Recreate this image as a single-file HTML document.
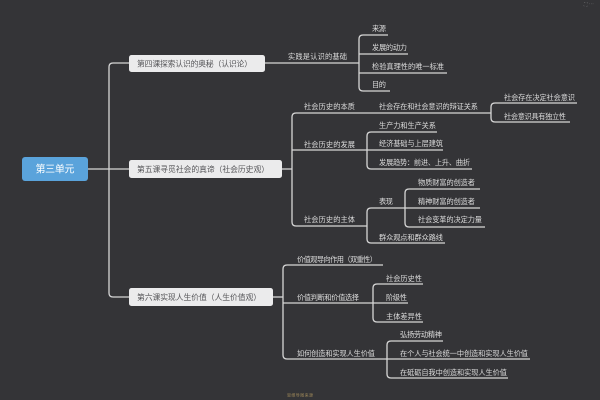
<!DOCTYPE html>
<html>
<head>
<meta charset="utf-8">
<style>
html,body{margin:0;padding:0;background:#343437;}
svg{display:block;}
text{font-family:"Liberation Sans","Noto Sans CJK SC",sans-serif;}
.t{fill:#dcdcdc;font-size:7.2px;}
.b{fill:#555558;font-size:7.8px;}
</style>
</head>
<body>
<svg width="600" height="400" viewBox="0 0 600 400" xmlns="http://www.w3.org/2000/svg">
<rect width="600" height="400" fill="#343437"/>
<g fill="none" stroke="#d6d6d6" stroke-width="1.3">
  <path d="M88,169 H129"/>
  <path d="M129,63 H113 Q109,63 109,67 V293 Q109,297 113,297 H129"/>
  <path d="M265,63 H359"/>
  <path d="M388,35 H363 Q359,35 359,39 V87 Q359,91 363,91 H390"/>
  <path d="M359,54 H408"/>
  <path d="M359,73 H447"/>
  <path d="M282,169 H292"/>
  <path d="M491,113 H296 Q292,113 292,117 V222 Q292,226 296,226 H367"/>
  <path d="M292,150 H443"/>
  <path d="M437,132 H371 Q367,132 367,136 V165 Q367,169 371,169 H472"/>
  <path d="M577,103 H495 Q491,103 491,107 V118 Q491,122 495,122 H570"/>
  <path d="M405,208 H371 Q367,208 367,212 V239 Q367,243 371,243 H445"/>
  <path d="M480,189 H409 Q405,189 405,193 V223 Q405,227 409,227 H485"/>
  <path d="M405,208 H480"/>
  <path d="M273,297 H283"/>
  <path d="M383,265 H287 Q283,265 283,269 V355 Q283,359 287,359 H387"/>
  <path d="M283,303 H373"/>
  <path d="M423,284 H377 Q373,284 373,288 V318 Q373,322 377,322 H423"/>
  <path d="M373,303 H408"/>
  <path d="M443,341 H391 Q387,341 387,345 V374 Q387,378 391,378 H508"/>
  <path d="M387,359 H530"/>
</g>

<rect x="22" y="157" width="66" height="24" rx="3" fill="#5aa3db"/>
<text x="55" y="172.5" text-anchor="middle" fill="#ffffff" font-size="10" textLength="39">第三单元</text>

<rect x="129" y="55" width="136" height="17" rx="2.5" fill="#ebebec"/>
<text class="b" x="137" y="66.5" textLength="115">第四课探索认识的奥秘（认识论）</text>
<rect x="129" y="160" width="153" height="18" rx="2.5" fill="#ebebec"/>
<text class="b" x="137" y="172" textLength="132">第五课寻觅社会的真谛（社会历史观）</text>
<rect x="129" y="288" width="144" height="18" rx="2.5" fill="#ebebec"/>
<text class="b" x="137" y="300" textLength="124">第六课实现人生价值（人生价值观）</text>

<text class="t" x="288" y="59" textLength="59">实践是认识的基础</text>
<text class="t" x="372" y="31" textLength="14">来源</text>
<text class="t" x="372" y="50" textLength="35">发展的动力</text>
<text class="t" x="372" y="69" textLength="72">检验真理性的唯一标准</text>
<text class="t" x="372" y="87" textLength="14">目的</text>

<text class="t" x="304" y="109" textLength="51">社会历史的本质</text>
<text class="t" x="379" y="109" textLength="99">社会存在和社会意识的辩证关系</text>
<text class="t" x="504" y="100" textLength="71">社会存在决定社会意识</text>
<text class="t" x="504" y="119" textLength="62">社会意识具有独立性</text>
<text class="t" x="304" y="147" textLength="51">社会历史的发展</text>
<text class="t" x="379" y="128" textLength="57">生产力和生产关系</text>
<text class="t" x="379" y="146" textLength="64">经济基础与上层建筑</text>
<text class="t" x="379" y="165" textLength="91">发展趋势：前进、上升、曲折</text>
<text class="t" x="304" y="222" textLength="51">社会历史的主体</text>
<text class="t" x="379" y="204" textLength="14">表现</text>
<text class="t" x="418" y="185" textLength="57">物质财富的创造者</text>
<text class="t" x="418" y="204" textLength="57">精神财富的创造者</text>
<text class="t" x="418" y="222" textLength="64">社会变革的决定力量</text>
<text class="t" x="379" y="240" textLength="64">群众观点和群众路线</text>

<text class="t" x="297" y="262" textLength="80">价值观导向作用（双重性）</text>
<text class="t" x="297" y="300" textLength="62">价值判断和价值选择</text>
<text class="t" x="386" y="281" textLength="36">社会历史性</text>
<text class="t" x="386" y="300" textLength="21">阶级性</text>
<text class="t" x="386" y="319" textLength="36">主体差异性</text>
<text class="t" x="297" y="356" textLength="78">如何创造和实现人生价值</text>
<text class="t" x="400" y="337" textLength="42">弘扬劳动精神</text>
<text class="t" x="400" y="356" textLength="128">在个人与社会统一中创造和实现人生价值</text>
<text class="t" x="400" y="375" textLength="107">在砥砺自我中创造和实现人生价值</text>

<text x="300" y="396.5" text-anchor="middle" fill="#a08a5a" font-size="4" textLength="26">思维导图来源</text>
<text x="584" y="6" fill="#777779" font-size="5">⛶ ⋯</text>
</svg>
</body>
</html>
